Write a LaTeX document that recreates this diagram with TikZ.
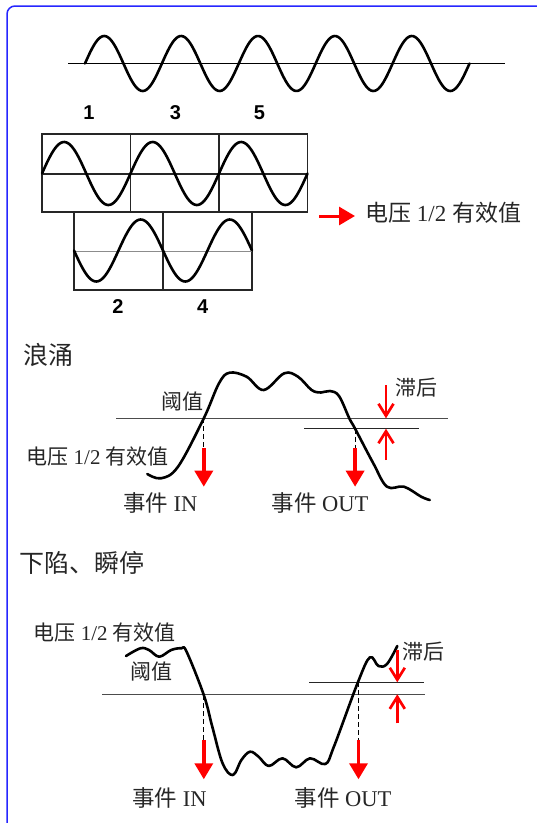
\documentclass[tikz,border=0pt]{standalone}
\usepackage{fontspec}
\setmainfont{Liberation Serif}
\newfontfamily\cjk{Noto Sans CJK SC}
\newfontfamily\numfont{Liberation Sans}
\usetikzlibrary{arrows.meta}

\newcommand{\rmsvalue}{{\cjk 电压} 1/2 {\cjk 有效值}}
\newcommand{\eventin}{{\cjk 事件} IN}
\newcommand{\eventout}{{\cjk 事件} OUT}

\begin{document}
\begin{tikzpicture}[x=1pt,y=-1pt,
  wave/.style={line width=2.6pt,line join=round,line cap=round},
  thresh/.style={line width=0.9pt,black!70},
  hysline/.style={line width=1.3pt,black!85},
  cell/.style={line width=1.1pt,black!85},
  drop/.style={line width=1pt,dash pattern=on 5pt off 3pt},
  event/.style={red,line width=3.5pt,-{Triangle[width=18pt,length=16pt]}},
  hyst/.style={red,line width=2.7pt,-{Straight Barb[width=15pt,length=12pt,line width=2.7pt]}},
  txt/.style={inner sep=0pt,text=black!85,font=\fontsize{21}{24}\selectfont},
  evtxt/.style={inner sep=0pt,text=black!85,font=\fontsize{22.5}{26}\selectfont},
  head/.style={inner sep=0pt,anchor=west,text=black!85,font=\cjk\fontsize{25}{28}\selectfont},
  num/.style={inner sep=0pt,font=\numfont\bfseries\fontsize{20}{22}\selectfont}]
\useasboundingbox (0,0) rectangle (537,823);
\draw[blue!85!white,line width=1.5pt,rounded corners=8pt] (545,6) -- (7,6) -- (7,830);

\draw[thresh,black] (68,63) -- (505,63);
\draw[wave] plot[domain=0:384.5,samples=220] ({85+\x},{63.5-27.5*sin(\x/76.9*360)});
\node[num] (n1) at (89,112.5) {1};
\node[num] (n3) at (175.5,112.5) {3};
\node[num] (n5) at (259.5,112.5) {5};

\foreach \i in {0,1,2}
  \draw[cell] ({42+88.5*\i},134) rectangle +(88.5,78);
\draw[cell] (42,174) -- (307.5,174);
\foreach \i in {0,1,2}
  \draw[wave] plot[domain=0:88.5,samples=60] ({42+88.5*\i+\x},{173.5-31.5*sin(\x/88.5*360)});
\foreach \i in {0,1}
  \draw[cell] ({74+89*\i},212) rectangle +(89,78);
\draw[cell,black!45] (74,251.7) -- (252,251.7);
\foreach \i in {0,1}
  \draw[wave] plot[domain=0:89,samples=60] ({74+89*\i+\x},{250.5+31*sin(\x/89*360)});
\node[num] (n2) at (118,306.7) {2};
\node[num] (n4) at (202.7,306.7) {4};

\coordinate (rmsTail) at (319,216);
\coordinate (rmsTip) at (355,216);
\draw[event,line width=3pt] (rmsTail) -- (rmsTip);
\node[txt,anchor=west,font=\fontsize{23}{26}\selectfont] (rmsTop) at (365,213) {\rmsvalue};

\node[head] (surgeTitle) at (23,355) {浪涌};
\draw[thresh] (116.4,418.3) -- (447.6,418.3);
\draw[hysline] (304,428.7) -- (418.5,428.7);
\draw[wave] plot[smooth,tension=0.6] coordinates {(147.3,474) (161,478.3) (178,466.7)
  (203.8,418.3) (219,383.3) (229.5,372.7) (246.6,376.7) (263.7,390) (284.2,373.3)
  (298,376.7) (311.6,390) (321,392.5) (330,391) (339,396) (349.3,418.3) (355.1,428.7)
  (373.3,463.3) (387,486.7) (404,486.7) (421.2,496.7) (429.8,500)};
\coordinate (surgeIn) at (203.8,418.3);
\coordinate (surgeInTail) at (203.8,448.3);
\coordinate (surgeInTip) at (203.8,486.7);
\coordinate (surgeOut) at (355.1,428.7);
\coordinate (surgeOutTail) at (355.1,448.3);
\coordinate (surgeOutTip) at (355.1,486.7);
\draw[drop] (surgeIn) -- (surgeInTail);
\draw[drop] (surgeOut) -- (surgeOutTail);
\draw[event] (surgeInTail) -- (surgeInTip);
\draw[event] (surgeOutTail) -- (surgeOutTip);
\coordinate (surgeHysTop) at (386,385);
\coordinate (surgeHysHi) at (386,418.3);
\coordinate (surgeHysLo) at (386,428.7);
\coordinate (surgeHysBot) at (386,460);
\draw[hyst] (surgeHysTop) -- (surgeHysHi);
\draw[hyst] (surgeHysBot) -- (surgeHysLo);
\node[txt] (surgeThr) at (182,401.7) {\cjk 阈值};
\node[txt] (surgeRms) at (97.6,456.7) {\rmsvalue};
\node[txt] (surgeHys) at (416,387.5) {\cjk 滞后};
\node[evtxt] (surgeEvIn) at (160.3,503.3) {\eventin};
\node[evtxt] (surgeEvOut) at (320,503.3) {\eventout};

\node[head] (dipTitle) at (19,563.3) {下陷、瞬停};
\draw[thresh] (102,694.3) -- (424.7,694.3);
\draw[hysline] (309.2,682.3) -- (423.6,682.3);
\draw[wave] plot[smooth,tension=0.6] coordinates {(126,656) (140.4,648.3) (149,650)
  (159.2,656.7) (171.2,650) (181.5,648.3) (186.6,651.7) (203.8,695) (212.3,726.7)
  (222.6,763.3) (232.9,775) (241.4,760) (250,751.7) (258.6,756.7) (268.8,766)
  (282.5,758.3) (296.2,767.3) (310,758.3) (325.3,764) (333.9,746.7) (357.9,682.3)
  (369.9,657.3) (378.4,666) (387,664) (397.3,646)};
\coordinate (dipIn) at (203.8,695);
\coordinate (dipInTail) at (203.8,740);
\coordinate (dipInTip) at (203.8,779.3);
\coordinate (dipOut) at (358.5,682.3);
\coordinate (dipOutTail) at (358.5,740);
\coordinate (dipOutTip) at (358.5,779.3);
\draw[drop] (dipIn) -- (dipInTail);
\draw[drop] (dipOut) -- (dipOutTail);
\draw[event] (dipInTail) -- (dipInTip);
\draw[event] (dipOutTail) -- (dipOutTip);
\coordinate (dipHysTop) at (397.3,650);
\coordinate (dipHysHi) at (397.3,682.3);
\coordinate (dipHysLo) at (397.3,694.3);
\coordinate (dipHysBot) at (397.3,723.3);
\draw[hyst] (dipHysTop) -- (dipHysHi);
\draw[hyst] (dipHysBot) -- (dipHysLo);
\node[txt] (dipRms) at (104.8,632.7) {\rmsvalue};
\node[txt] (dipThr) at (151.5,671.7) {\cjk 阈值};
\node[txt] (dipHys) at (423,651.7) {\cjk 滞后};
\node[evtxt] (dipEvIn) at (169.5,798.3) {\eventin};
\node[evtxt] (dipEvOut) at (343,798.3) {\eventout};
\end{tikzpicture}
\end{document}
